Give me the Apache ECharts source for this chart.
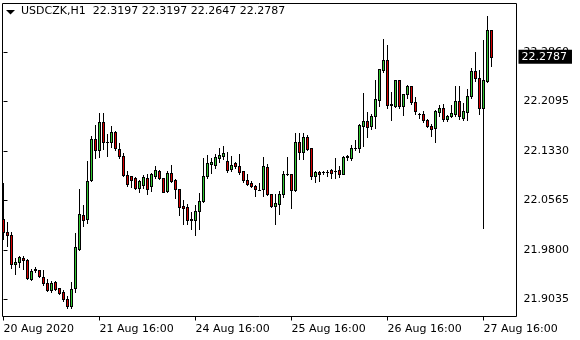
<!DOCTYPE html>
<html><head><meta charset="utf-8">
<script src="https://cdn.jsdelivr.net/npm/echarts@6/dist/echarts.min.js"></script>
<style>html,body{margin:0;padding:0;background:#fff}#c{width:580px;height:340px}</style>
</head><body><div id="c"></div>
<script>
const symbolName = 'USDCZK';
const timeframe = 'H1';

const opens = [22.0281,22.0080,22.0033,21.9580,21.9611,21.9678,21.9642,21.9353,21.9485,21.9488,
21.9381,21.9292,21.9176,21.9307,21.9210,21.9157,21.9044,21.8928,21.9207,21.9822,
22.0342,22.0276,22.0879,22.1517,22.1342,22.1775,22.1466,22.1466,22.1625,22.1362,
22.1250,22.0956,22.0941,22.0910,22.0755,22.0811,22.0919,22.0786,22.0950,22.1022,
22.0910,22.0718,22.0992,22.0888,22.0744,22.0486,22.0466,22.0285,22.0270,22.0404,
22.0554,22.0950,22.1135,22.1115,22.1228,22.1259,22.1177,22.1053,22.1146,22.1095,
22.1018,22.0888,22.0837,22.0795,22.0733,22.0744,22.1084,22.0662,22.0477,22.0517,
22.0662,22.0971,22.0971,22.0724,22.1466,22.1321,22.1548,22.1373,22.0941,22.1012,
22.1002,22.1012,22.1033,22.1022,22.1033,22.0981,22.1239,22.1228,22.1373,22.1382,
22.1723,22.1795,22.1713,22.1868,22.2124,22.2588,22.2733,22.2053,22.2022,22.2424,
22.2022,22.2208,22.2341,22.2084,22.1899,22.1899,22.1806,22.1723,22.1692,22.1939,
22.1991,22.1826,22.1868,22.1908,22.2104,22.1846,22.1939,22.2177,22.2568,22.2455,
22.1991,22.2413,22.3197];

const closes = [22.0080,22.0029,21.9580,21.9621,21.9693,21.9639,21.9361,21.9474,21.9508,21.9400,
21.9288,21.9186,21.9292,21.9203,21.9142,21.9040,21.8931,21.9199,21.9848,22.0353,
22.0261,22.0868,22.1517,22.1342,22.1775,22.1466,22.1466,22.1621,22.1373,22.1250,
22.0961,22.0817,22.0888,22.0755,22.0868,22.0930,22.0744,22.0976,22.1033,22.0914,
22.0702,22.0992,22.0872,22.0749,22.0466,22.0455,22.0261,22.0261,22.0400,22.0559,
22.0941,22.1146,22.1166,22.1239,22.1270,22.1301,22.1042,22.1115,22.1095,22.1002,
22.0879,22.0826,22.0795,22.0744,22.0733,22.1095,22.0662,22.0477,22.0528,22.0662,
22.0971,22.0971,22.0724,22.1466,22.1321,22.1548,22.1362,22.0941,22.1012,22.0971,
22.1012,22.1012,22.0992,22.1022,22.0971,22.1239,22.1250,22.1382,22.1373,22.1733,
22.1795,22.1702,22.1868,22.2135,22.2599,22.2733,22.2042,22.2042,22.2424,22.2022,
22.2208,22.2341,22.2084,22.1950,22.1899,22.1806,22.1723,22.1671,22.1950,22.1991,
22.1826,22.1877,22.1919,22.2104,22.1868,22.1950,22.2177,22.2568,22.2455,22.1991,
22.2424,22.3197,22.2787];

const lows = [21.9964,21.9863,21.9516,21.9426,21.9531,21.9503,21.9349,21.9342,21.9457,21.9384,
21.9256,21.9168,21.9157,21.9179,21.9121,21.9009,21.8910,21.8910,21.9152,21.9802,
22.0172,22.0214,22.0860,22.1228,22.1243,22.1362,22.1250,22.1393,22.1352,22.1228,
22.0950,22.0786,22.0781,22.0740,22.0693,22.0760,22.0672,22.0709,22.0914,22.0899,
22.0693,22.0693,22.0848,22.0610,22.0338,22.0203,22.0203,22.0121,22.0038,22.0121,
22.0539,22.0910,22.0992,22.1073,22.1157,22.1208,22.1012,22.1022,22.1073,22.0971,
22.0848,22.0806,22.0775,22.0641,22.0724,22.0641,22.0652,22.0466,22.0208,22.0363,
22.0621,22.0960,22.0455,22.0713,22.1208,22.1208,22.1352,22.0899,22.0857,22.0868,
22.0981,22.0950,22.0910,22.0919,22.0930,22.0971,22.1197,22.1188,22.1352,22.1321,
22.1413,22.1548,22.1671,22.1682,22.2032,22.2548,22.2001,22.1806,22.2012,22.2001,
22.1888,22.2155,22.2063,22.1899,22.1837,22.1784,22.1702,22.1559,22.1475,22.1877,
22.1795,22.1795,22.1857,22.1868,22.1826,22.1815,22.1815,22.2146,22.2413,22.1908,
22.0146,22.2393,22.2647];

const highs = [22.0837,22.0230,22.0075,21.9683,21.9713,21.9712,21.9662,21.9512,21.9534,21.9497,
21.9488,21.9353,21.9318,21.9322,21.9219,21.9176,21.9086,21.9312,22.0064,22.0744,
22.0497,22.1172,22.1568,22.1733,22.1914,22.1919,22.1599,22.1713,22.1641,22.1455,
22.1301,22.1018,22.0950,22.0934,22.0883,22.0965,22.0971,22.0987,22.1104,22.1042,
22.0919,22.1022,22.1115,22.0903,22.0749,22.0579,22.0508,22.0393,22.0492,22.0687,
22.1219,22.1270,22.1228,22.1281,22.1373,22.1404,22.1321,22.1259,22.1157,22.1281,
22.1022,22.0971,22.0868,22.0806,22.0837,22.1239,22.1126,22.0672,22.0672,22.0713,
22.1022,22.1239,22.0981,22.1610,22.1610,22.1610,22.1579,22.1382,22.1022,22.1022,
22.1022,22.1042,22.1053,22.1219,22.1095,22.1259,22.1270,22.1424,22.1497,22.1754,
22.2228,22.1930,22.1899,22.2424,22.2599,22.3062,22.2970,22.2239,22.2424,22.2424,
22.2208,22.2352,22.2341,22.2166,22.1919,22.1950,22.1826,22.1744,22.1970,22.2042,
22.2053,22.1888,22.2042,22.2341,22.2341,22.2073,22.2290,22.2619,22.2866,22.2588,
22.3052,22.3413,22.3197];

const tickBars = [0, 24, 48, 72, 96, 120];
const tickLabels = ['20 Aug 2020', '21 Aug 16:00', '24 Aug 16:00', '25 Aug 16:00', '26 Aug 16:00', '27 Aug 16:00'];
const priceTicks = [21.9035, 21.9800, 22.0565, 22.1330, 22.2095, 22.2860];
const priceMin = 21.87723, priceMax = 22.36096;
const barMin = -0.25, barMax = 128.25;

const FONT = 'DejaVu Sans';
const BULL = '#32c832', BEAR = '#d80000';
const data = opens.map((o, i) => [i, o, closes[i], lows[i], highs[i]]);
const last = opens.length - 1;
const lastClose = closes[last];
const titleText = symbolName + ',' + timeframe + '  ' +
  [opens[last], highs[last], lows[last], closes[last]].map(v => v.toFixed(4)).join(' ');

function renderCandle(params, api) {
  const i = api.value(0);
  const o = api.value(1), c = api.value(2), l = api.value(3), h = api.value(4);
  const pO = api.coord([i, o]), pC = api.coord([i, c]);
  const pL = api.coord([i, l]), pH = api.coord([i, h]);
  const xc = Math.floor(pO[0]);               // centre pixel column
  const yT = Math.round(Math.min(pO[1], pC[1]));
  const yB = Math.round(Math.max(pO[1], pC[1]));
  const yH = Math.round(pH[1]), yL = Math.round(pL[1]);
  const kids = [
    {type: 'rect', shape: {x: xc, y: yH, width: 1, height: yL - yH + 1}, style: {fill: '#000'}},
    {type: 'rect', shape: {x: xc - 1, y: yT, width: 3, height: yB - yT + 1}, style: {fill: '#000'}}
  ];
  if (yB - yT >= 2) {
    kids.push({type: 'rect', shape: {x: xc, y: yT + 1, width: 1, height: yB - yT - 1},
               style: {fill: c >= o ? BULL : BEAR}});
  }
  return {type: 'group', children: kids};
}

const chart = echarts.init(document.getElementById('c'), null, {renderer: 'canvas'});
chart.setOption({
  animation: false,
  backgroundColor: '#ffffff',
  title: {
    text: titleText, left: 21, top: 6, padding: 0,
    textStyle: {fontFamily: FONT, fontSize: 11, fontWeight: 'normal', color: '#000'}
  },
  graphic: [{
    type: 'polygon', shape: {points: [[6, 10], [15, 10], [10.5, 14.5]]},
    style: {fill: '#000'}, silent: true
  }],
  grid: {
    left: 2.5, top: 3.5, right: 63.5, bottom: 23.5,
    show: true, borderColor: '#000', borderWidth: 1, backgroundColor: 'transparent'
  },
  xAxis: {
    type: 'value', min: barMin, max: barMax,
    axisLine: {show: false},
    splitLine: {show: false},
    axisTick: {show: true, customValues: tickBars, length: 4, lineStyle: {color: '#000'}},
    axisLabel: {
      show: true, customValues: tickBars, align: 'left', margin: 7,
      fontFamily: FONT, fontSize: 11, color: '#000',
      formatter: v => tickLabels[tickBars.indexOf(Math.round(v))] || ''
    }
  },
  yAxis: [{
    type: 'value', position: 'right', min: priceMin, max: priceMax,
    axisLine: {show: false},
    splitLine: {show: false},
    axisTick: {show: true, customValues: priceTicks, length: 4, lineStyle: {color: '#000'}},
    axisLabel: {
      show: true, customValues: priceTicks, margin: 7,
      fontFamily: FONT, fontSize: 11, color: '#000',
      formatter: v => v.toFixed(4)
    }
  }, {
    type: 'value', position: 'right', min: priceMin, max: priceMax, z: 5,
    axisLine: {show: false},
    splitLine: {show: false},
    axisTick: {show: false},
    axisLabel: {
      show: true, customValues: [lastClose], margin: 2,
      fontFamily: FONT, fontSize: 11, color: '#fff', lineHeight: 12,
      backgroundColor: '#000', padding: [1, 5, 1, 3],
      formatter: v => v.toFixed(4)
    }
  }],
  series: [{
    type: 'custom',
    data: data,
    encode: {x: 0, y: [1, 2, 3, 4]},
    renderItem: renderCandle,
    clip: false,
    silent: true
  }]
});
</script></body></html>
